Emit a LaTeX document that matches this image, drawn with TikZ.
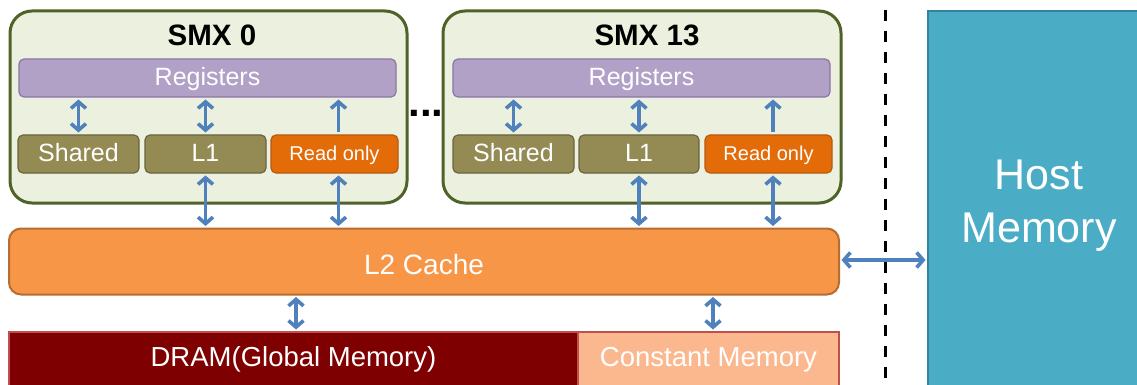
\documentclass[tikz,border=0pt]{standalone}
\usepackage{fontspec}
\setmainfont{Liberation Sans}
\usetikzlibrary{arrows.meta,calc}

\definecolor{smxfill}{HTML}{EBF1DE}
\definecolor{smxline}{HTML}{4F6228}
\definecolor{regfill}{HTML}{B2A1C7}
\definecolor{regline}{HTML}{8A76A6}
\definecolor{memfill}{HTML}{948A54}
\definecolor{memline}{HTML}{6B6440}
\definecolor{rofill}{HTML}{E36C09}
\definecolor{roline}{HTML}{B45A12}
\definecolor{ltwofill}{HTML}{F79646}
\definecolor{ltwoline}{HTML}{B66D31}
\definecolor{dramfill}{HTML}{7F0000}
\definecolor{constfill}{HTML}{FBB88E}
\definecolor{lowline}{HTML}{C0504D}
\definecolor{hostfill}{HTML}{4BACC6}
\definecolor{hostline}{HTML}{31849B}
\definecolor{arrowblue}{HTML}{4F81BD}

\tikzset{
  smxbox/.style={draw=smxline, fill=smxfill, line width=3pt, rounded corners=22pt,
    inner sep=0pt, outer sep=0pt},
  smxtitle/.style={font=\fontsize{29.5}{32}\selectfont\bfseries, inner sep=0pt,
    text height=21.1pt, text depth=0pt},
  unitbox/.style={rounded corners=5pt, line width=1.2pt, text=white, inner sep=0pt,
    outer sep=0pt, minimum height=38pt, font=\fontsize{25}{30}\selectfont,
    text height=17.9pt, text depth=0pt},
  regbox/.style={unitbox, draw=regline, fill=regfill, minimum width=377pt},
  membox/.style={unitbox, draw=memline, fill=memfill, minimum width=121pt},
  robox/.style={unitbox, draw=roline, fill=rofill, minimum width=127pt,
    font=\fontsize{20}{24}\selectfont, text height=14.3pt},
  ltwobox/.style={draw=ltwoline, fill=ltwofill, line width=2pt, rounded corners=12pt,
    text=white, inner sep=0pt, outer sep=0pt, minimum width=830pt, minimum height=66pt,
    font=\fontsize{28}{32}\selectfont, text height=20pt, text depth=0pt},
  lowbox/.style={draw=lowline, line width=2pt, text=white, inner sep=0pt, outer sep=0pt,
    minimum height=68pt, font=\fontsize{27.5}{32}\selectfont,
    text height=19.7pt, text depth=0pt},
  hostbox/.style={draw=hostline, fill=hostfill, line width=2pt, text=white, inner sep=0pt,
    outer sep=0pt, minimum width=222pt, minimum height=389pt, align=center,
    font=\fontsize{43}{53}\selectfont},
  tip/.tip={Straight Barb[length=6.5pt,width=15pt]},
  link/.style={draw=arrowblue, line width=3.6pt, shorten <=2.5pt, shorten >=2.5pt},
  dbl/.style={link, tip-tip},
  uni/.style={link, -tip},
  divider/.style={black, line width=3pt, dash pattern=on 11pt off 10pt}
}

\begin{document}
\begin{tikzpicture}[x=1pt,y=-1pt]
  \clip (0,0) rectangle (1137,385);
  \fill[white] (0,0) rectangle (1137,385);

  % streaming multiprocessors
  \node[smxbox, minimum width=397pt, minimum height=192pt] (smx0) at (208.5,107) {};
  \node[smxbox, minimum width=398pt, minimum height=192pt] (smx13) at (642,107) {};
  \node[smxtitle] (t0) at (212,35) {SMX 0};
  \node[smxtitle] (t13) at (647,35) {SMX 13};

  \node[regbox] (reg0) at (207.5,78) {\raisebox{1.5pt}{Registers}};
  \node[regbox] (reg13) at (641.5,78) {\raisebox{1.5pt}{Registers}};

  \node[membox] (sh0) at (78.5,154) {\raisebox{1pt}{Shared}};
  \node[membox] (lone0) at (205.5,154) {\raisebox{1pt}{L1}};
  \node[robox] (ro0) at (334.5,154) {\raisebox{1pt}{Read only}};

  \node[membox] (sh13) at (513.5,154) {\raisebox{1pt}{Shared}};
  \node[membox, minimum width=120pt] (lone13) at (639,154) {\raisebox{1pt}{L1}};
  \node[robox] (ro13) at (768.5,154) {\raisebox{1pt}{Read only}};

  \node[font=\fontsize{42}{42}\selectfont\bfseries, inner sep=0pt] (dots) at (426,113) {...};

  % shared levels
  \node[ltwobox] (ltwo) at (424,261.5) {\raisebox{-2.5pt}{L2 Cache}};
  \node[lowbox, fill=dramfill, minimum width=569pt] (dram) at (293.5,366)
    {\raisebox{9pt}{DRAM(Global Memory)}};
  \node[lowbox, fill=constfill, minimum width=261pt] (const) at (708.5,366)
    {\raisebox{9pt}{Constant Memory}};

  % host side
  \node[hostbox] (host) at (1039,205.5) {Host\\Memory};
  \coordinate (divtop) at (885,10);
  \coordinate (divbot) at (885,390);
  \draw[divider] (divtop) -- (divbot);

  % connections inside the multiprocessors
  \draw[dbl] (sh0.north) -- (sh0.north |- reg0.south);
  \draw[dbl] (lone0.north) -- (lone0.north |- reg0.south);
  \draw[uni] ([xshift=4pt]ro0.north) -- ([xshift=4pt]ro0.north |- reg0.south);
  \draw[dbl] (sh13.north) -- (sh13.north |- reg13.south);
  \draw[dbl] (lone13.north) -- (lone13.north |- reg13.south);
  \draw[uni] ([xshift=4.5pt]ro13.north) -- ([xshift=4.5pt]ro13.north |- reg13.south);

  % multiprocessors to L2
  \draw[dbl] (lone0.south) -- (lone0.south |- ltwo.north);
  \draw[dbl] ([xshift=4pt]ro0.south) -- ([xshift=4pt]ro0.south |- ltwo.north);
  \draw[dbl] (lone13.south) -- (lone13.south |- ltwo.north);
  \draw[dbl] ([xshift=4.5pt]ro13.south) -- ([xshift=4.5pt]ro13.south |- ltwo.north);

  % L2 to device memory and host
  \draw[dbl] ([xshift=2.5pt]dram.north) -- ([xshift=2.5pt]dram.north |- ltwo.south);
  \draw[dbl] ([xshift=4.5pt]const.north) -- ([xshift=4.5pt]const.north |- ltwo.south);
  \draw[dbl] ([yshift=1.5pt]ltwo.east) -- ([yshift=1.5pt]ltwo.east -| host.west);
\end{tikzpicture}
\end{document}
